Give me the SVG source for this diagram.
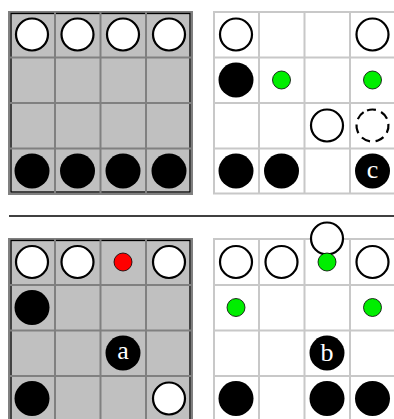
<svg xmlns="http://www.w3.org/2000/svg" width="394" height="419" viewBox="0 0 394 419">
<style>
.bg{fill:#fff}
.gboard{fill:#c0c0c0;stroke:#808080;stroke-width:2}
.gline{stroke:#808080;stroke-width:2;fill:none}
.inner{fill:none;stroke:#000;stroke-width:1.3}
.wline{stroke:#c8c8c8;stroke-width:2;fill:none}
.w{fill:#fff;stroke:#000;stroke-width:2.2}
.wd{fill:none;stroke:#000;stroke-width:2.2;stroke-dasharray:9 5.5}
.b{fill:#000}
.g{fill:#00ee00;stroke:#000;stroke-width:0.8}
.r{fill:#ff0000;stroke:#000;stroke-width:0.8}
.lbl{fill:#fff;font-family:"Liberation Serif","DejaVu Serif",serif;font-size:26px;text-anchor:middle}
.sep{stroke:#000;stroke-width:1.6}
</style>
<rect class="bg" x="0" y="0" width="394" height="419"/>

<g id="board-top-left">
  <rect class="gboard" x="9" y="12" width="183" height="182"/>
  <rect class="inner" x="11" y="13.5" width="179" height="178.5"/>
  <path class="gline" d="M55 12V194M100.5 12V194M146 12V194M9 57.5H192M9 103H192M9 148.5H192"/>
  <circle class="w" cx="32" cy="34.5" r="16"/>
  <circle class="w" cx="77.5" cy="34.5" r="16"/>
  <circle class="w" cx="123" cy="34.5" r="16"/>
  <circle class="w" cx="169" cy="34.5" r="16"/>
  <circle class="b" cx="32" cy="171" r="17.5"/>
  <circle class="b" cx="77.5" cy="171" r="17.5"/>
  <circle class="b" cx="123" cy="171" r="17.5"/>
  <circle class="b" cx="169" cy="171" r="17.5"/>
</g>

<g id="board-top-right">
  <path class="wline" d="M213 12H396M213 57.5H396M213 103H396M213 148.5H396M213 193.5H396M214 12V194M259 12V194M304.5 12V194M350 12V194"/>
  <circle class="w" cx="236" cy="34.5" r="16"/>
  <circle class="w" cx="372.5" cy="34.5" r="16"/>
  <circle class="b" cx="236" cy="80" r="17.5"/>
  <circle class="g" cx="281.5" cy="80" r="9"/>
  <circle class="g" cx="372.5" cy="80" r="9"/>
  <circle class="w" cx="327" cy="125.5" r="16"/>
  <circle class="wd" cx="372.5" cy="125.5" r="16" transform="rotate(-110 372.5 125.5)"/>
  <circle class="b" cx="236" cy="171" r="17.5"/>
  <circle class="b" cx="281.5" cy="171" r="17.5"/>
  <g id="stone-c">
    <circle class="b" cx="372.5" cy="171" r="17.5"/>
    <text class="lbl" x="372.5" y="177.5">c</text>
  </g>
</g>

<line class="sep" x1="9" y1="216" x2="394" y2="216"/>

<g id="board-bottom-left">
  <rect class="gboard" x="9" y="239" width="183" height="184"/>
  <rect class="inner" x="11" y="240.5" width="179" height="184"/>
  <path class="gline" d="M55 239V421M100.5 239V421M146 239V421M9 285H192M9 330.5H192M9 376H192"/>
  <circle class="w" cx="32" cy="262" r="16"/>
  <circle class="w" cx="77.5" cy="262" r="16"/>
  <circle class="r" cx="123" cy="262" r="9"/>
  <circle class="w" cx="169" cy="262" r="16"/>
  <circle class="b" cx="32" cy="307.5" r="17.5"/>
  <g id="stone-a">
    <circle class="b" cx="123" cy="353" r="17.5"/>
    <text class="lbl" x="123" y="359">a</text>
  </g>
  <circle class="b" cx="32" cy="398.5" r="17.5"/>
  <circle class="w" cx="169" cy="398.5" r="16"/>
</g>

<g id="board-bottom-right">
  <path class="wline" d="M213 239H396M213 285H396M213 330.5H396M213 376H396M214 239V421M259 239V421M304.5 239V421M350 239V421"/>
  <circle class="w" cx="236" cy="262" r="16"/>
  <circle class="w" cx="281.5" cy="262" r="16"/>
  <circle class="w" cx="372.5" cy="262" r="16"/>
  <circle class="w" cx="327" cy="238.5" r="16"/>
  <circle class="g" cx="327" cy="262" r="9"/>
  <circle class="g" cx="236" cy="307.5" r="9"/>
  <circle class="g" cx="372.5" cy="307.5" r="9"/>
  <g id="stone-b">
    <circle class="b" cx="327" cy="353" r="17.5"/>
    <text class="lbl" x="327" y="361">b</text>
  </g>
  <circle class="b" cx="236" cy="398.5" r="17.5"/>
  <circle class="b" cx="327" cy="398.5" r="17.5"/>
  <circle class="b" cx="372.5" cy="398.5" r="17.5"/>
</g>
</svg>
